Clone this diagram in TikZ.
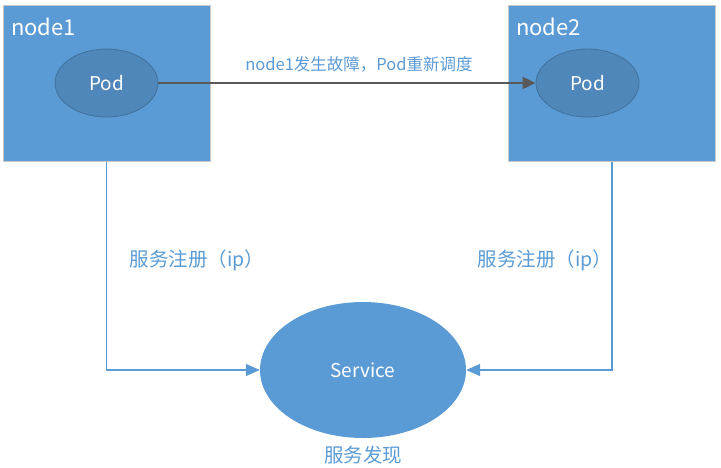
\documentclass[tikz,border=0pt]{standalone}
\usepackage{fontspec}
\setmainfont{Noto Sans CJK SC}
\usetikzlibrary{shapes.geometric,arrows.meta}

\definecolor{boxblue}{HTML}{5B9BD5}
\definecolor{podblue}{HTML}{4F87BA}
\definecolor{podline}{HTML}{41719C}
\definecolor{arrowgray}{HTML}{595959}

\tikzset{
    hostbox/.style={draw=black!22, line width=1pt, fill=boxblue, minimum width=207pt, minimum height=156pt},
    hostlabel/.style={text=white, font=\fontsize{22}{24}\selectfont, anchor=base west, inner sep=0pt},
    podshape/.style={ellipse, draw=podline, line width=0.8pt, fill=podblue, minimum width=103pt, minimum height=68pt, text=white, font=\fontsize{19}{21}\selectfont},
    svcshape/.style={ellipse, fill=boxblue, minimum width=206pt, minimum height=136pt, text=white, font=\fontsize{19}{21}\selectfont},
    bluetext/.style={text=boxblue, font=\fontsize{19.5}{22}\selectfont},
    moveline/.style={arrowgray, line width=2pt, -{Triangle[length=13pt,width=12pt]}},
    regline/.style={boxblue, line width=1.6pt, -{Triangle[length=14pt,width=12pt]}}
}

\begin{document}
\begin{tikzpicture}[x=1pt, y=-1pt]
    \useasboundingbox (0,0) rectangle (721,467);

    %draws the two hosts
    \node[hostbox] (node1) at (106.5,83) {};
    \node[hostbox] (node2) at (612,83) {};
    \node[hostlabel] (node1name) at (11,35) {node1};
    \node[hostlabel] (node2name) at (516,35) {node2};

    %draws the pods
    \node[podshape] (pod1) at (106.5,83) {Pod};
    \node[podshape] (pod2) at (587.5,83) {Pod};

    %draws the service
    \node[svcshape] (svc) at (363,370) {Service};

    %draws rescheduling
    \draw[moveline] (pod1) -- (pod2)
        node[midway, above=6pt, xshift=12pt, text=boxblue, font=\fontsize{16.5}{19}\selectfont] (movetext) {node1发生故障，Pod重新调度};

    %draws registration lines
    \draw[regline] (node1.south) |- (svc.west);
    \draw[regline] (node2.south) |- (svc.east);

    \node[bluetext] (reg1) at (197,260) {服务注册（ip）};
    \node[bluetext] (reg2) at (545,260) {服务注册（ip）};
    \node[bluetext] (find) at (363,455) {服务发现};

\end{tikzpicture}
\end{document}
